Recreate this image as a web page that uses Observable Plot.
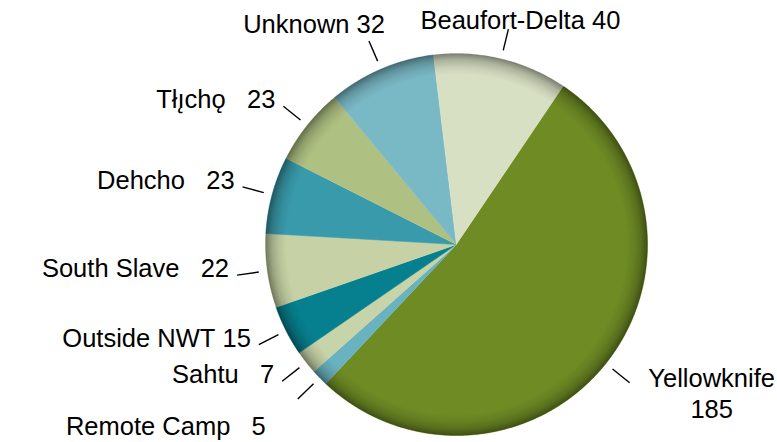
<!DOCTYPE html>
<html><head><meta charset="utf-8">
<script src="https://cdn.jsdelivr.net/npm/d3@7"></script>
<script src="https://cdn.jsdelivr.net/npm/@observablehq/plot@0.6"></script>
<style>html,body{margin:0;padding:0;background:#fff}</style>
</head><body><div id="chart"></div>
<script>
// ---- data ----
const regions = ["Yellowknife", "Remote Camp", "Sahtu", "Outside NWT", "South Slave", "Dehcho", "Tłı̨chǫ", "Unknown", "Beaufort-Delta"];
const counts = [185, 5, 7, 15, 22, 23, 23, 32, 40];
const colors = ["#6e8b24", "#69b2bf", "#c7d3a8", "#06808f", "#c6d2a5", "#399aab", "#afc182", "#79b9c5", "#d8e0c4"];
const wideGap = ["Remote Camp", "Sahtu", "South Slave", "Dehcho", "Tłı̨chǫ"];
const firstSliceAngle = 34; // degrees, clockwise from 12 o'clock

// ---- layout ----
const W = 777, H = 442, cx = 456, cy = 244, R = 191;
const rot = firstSliceAngle * Math.PI / 180;
const arcs = d3.pie().sort(null).startAngle(rot).endAngle(rot + 2 * Math.PI)(counts);

const slicePts = arcs.flatMap((a, i) => {
  const n = Math.max(2, Math.ceil((a.endAngle - a.startAngle) / (Math.PI / 360)));
  const pts = [{region: regions[i], x: 0, y: 0}];
  for (let k = 0; k <= n; k++) {
    const t = a.startAngle + (a.endAngle - a.startAngle) * k / n;
    pts.push({region: regions[i], x: Math.sin(t), y: Math.cos(t)});
  }
  return pts;
});
const rimPts = d3.range(0, 721).map(k => ({x: Math.sin(k * Math.PI / 360), y: Math.cos(k * Math.PI / 360)}));

const r1 = 1.045, r2 = 1.16;
const labels = arcs.map((a, i) => {
  const m = (a.startAngle + a.endAngle) / 2;
  const s = Math.sin(m), c = Math.cos(m);
  const name = regions[i];
  const sep = wideGap.includes(name) ? "\u00a0\u00a0\u00a0" : "\u00a0";
  const side = s > 0.3 ? "right" : s < -0.3 ? (c < -0.66 ? "bottomleft" : c > 0.85 ? "topleft" : "left") : "top";
  const text = side === "right" ? `${name}\n${counts[i]}` : `${name}${sep}${counts[i]}`;
  return {name, text, side, x1: r1 * s, y1: r1 * c, x2: r2 * s, y2: r2 * c};
});

const font = {fontSize: 25.5, fill: "#000", fontFamily: "'Liberation Sans', Arial, Helvetica, sans-serif"};
const textMark = (side, opts) => Plot.text(labels.filter(d => d.side === side), {x: "x2", y: "y2", text: "text", ...font, ...opts});

const chart = Plot.plot({
  width: W, height: H,
  margin: 0,
  x: {domain: [-cx / R, (W - cx) / R], axis: null},
  y: {domain: [-(H - cy) / R, cy / R], axis: null},
  color: {domain: regions, range: colors},
  style: {background: "#fff", overflow: "visible"},
  marks: [
    Plot.line(slicePts, {x: "x", y: "y", z: "region", fill: "region", stroke: "region", strokeWidth: 0.6}),
    Plot.line(rimPts, {x: "x", y: "y", fill: "url(#rim)", stroke: "none"}),
    Plot.link(labels, {x1: "x1", y1: "y1", x2: "x2", y2: "y2", stroke: "#000", strokeWidth: 1.4}),
    textMark("left", {textAnchor: "end", lineAnchor: "middle", dx: -8, dy: -6}),
    textMark("topleft", {textAnchor: "end", lineAnchor: "bottom", dx: 16, dy: -8}),
    textMark("top", {textAnchor: "middle", lineAnchor: "bottom", dx: 12, dy: 0}),
    textMark("bottomleft", {textAnchor: "end", lineAnchor: "top", dx: -32, dy: 18}),
    textMark("right", {textAnchor: "middle", lineAnchor: "middle", dx: 82, dy: 10, lineHeight: 1.2})
  ]
});

// radial rim shading (3-D bevel look)
const defs = d3.select(chart).insert("defs", ":first-child");
const g = defs.append("radialGradient").attr("id", "rim").attr("cx", "50%").attr("cy", "50%").attr("r", "50%");
[[0, 0], [0.89, 0], [0.93, 0.08], [0.965, 0.2], [0.99, 0.36], [1, 0.45]].forEach(([o, a]) =>
  g.append("stop").attr("offset", o).attr("stop-color", "#000").attr("stop-opacity", a));

document.getElementById("chart").appendChild(chart);
</script>
</body></html>
